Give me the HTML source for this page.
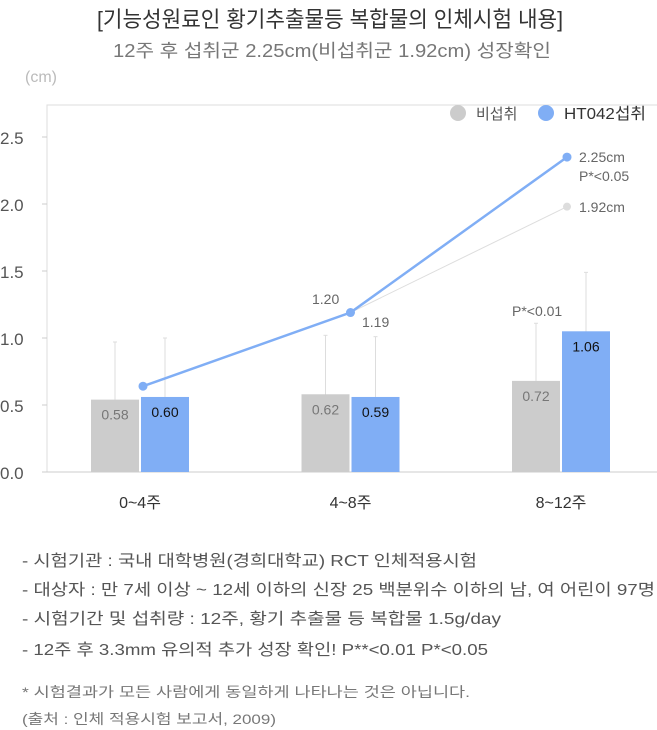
<!DOCTYPE html>
<html><head><meta charset="utf-8"><style>
body{margin:0;background:#fff;width:657px;height:730px;overflow:hidden;font-family:"Liberation Sans","Noto Sans CJK KR",sans-serif}
svg{display:block}
</style></head><body>
<svg id="c" width="657" height="730" xmlns="http://www.w3.org/2000/svg" font-family="Liberation Sans, Noto Sans CJK KR, sans-serif">
<text x="97" y="27" textLength="466" lengthAdjust="spacingAndGlyphs" font-size="22" fill="#333">[기능성원료인 황기추출물등 복합물의 인체시험 내용]</text>
<text x="113" y="57" textLength="438" lengthAdjust="spacingAndGlyphs" font-size="18" fill="#777">12주 후 섭취군 2.25cm(비섭취군 1.92cm) 성장확인</text>
<text x="25" y="82" font-size="16" fill="#bbb">(cm)</text>
<rect x="47" y="105" width="612" height="367" fill="none" stroke="#ddd" stroke-width="1"/>
<g id="g"></g>
<g>
<circle cx="458" cy="113" r="8" fill="#ccc"/>
<text x="476" y="119" font-size="15" fill="#555">비섭취</text>
<circle cx="546" cy="113" r="8" fill="#80aef5"/>
<text x="564" y="119" textLength="82" lengthAdjust="spacingAndGlyphs" font-size="16" fill="#333">HT042섭취</text>
</g>
<g font-size="16" fill="#555">
<text x="22" y="566" textLength="455" lengthAdjust="spacingAndGlyphs">- 시험기관 : 국내 대학병원(경희대학교) RCT 인체적용시험</text>
<text x="22" y="595" textLength="633" lengthAdjust="spacingAndGlyphs">- 대상자 : 만 7세 이상 ~ 12세 이하의 신장 25 백분위수 이하의 남, 여 어린이 97명</text>
<text x="22" y="624" textLength="479" lengthAdjust="spacingAndGlyphs">- 시험기간 및 섭취량 : 12주, 황기 추출물 등 복합물 1.5g/day</text>
<text x="22" y="655" textLength="466" lengthAdjust="spacingAndGlyphs">- 12주 후 3.3mm 유의적 추가 성장 확인! P**&lt;0.01 P*&lt;0.05</text>
</g>
<g font-size="14" fill="#777">
<text x="22" y="697" textLength="448" lengthAdjust="spacingAndGlyphs">* 시험결과가 모든 사람에게 동일하게 나타나는 것은 아닙니다.</text>
<text x="22" y="724" textLength="254" lengthAdjust="spacingAndGlyphs">(출처 : 인체 적용시험 보고서, 2009)</text>
</g>
</svg>
<script>
const categories=["0~4주","4~8주","8~12주"];
const controlBars=[0.54,0.58,0.68];
const treatBars=[0.56,0.56,1.05];
const controlLabels=["0.58","0.62","0.72"];
const treatLabels=["0.60","0.59","1.06"];
const controlErr=[0.97,1.02,1.11];
const treatErr=[1.0,1.01,1.49];
const cumTreat=[0.64,1.19,2.35];
const cumControl=[null,1.19,1.98];
const yTicks=[0,0.5,1.0,1.5,2.0,2.5];
const NS="http://www.w3.org/2000/svg";
const g=document.getElementById('g');
const y=v=>472-v*134;
const cx=i=>140+i*210.5;
function mk(t,a,p){const e=document.createElementNS(NS,t);for(const k in a)e.setAttribute(k,a[k]);(p||g).appendChild(e);return e;}
yTicks.forEach(v=>{
const t=mk('text',{x:0,y:y(v)+7,'font-size':17,fill:'#555'});t.textContent=v.toFixed(1);


const l=mk('line',{x1:42,x2:47,y1:y(v),y2:y(v),stroke:'#ccc'});


});
const bx=mk('line',{x1:42,x2:657,y1:472,y2:472,stroke:'#ccc'});


categories.forEach((c,i)=>{
const x=cx(i);
const el=mk('line',{x1:x-25,x2:x-25,y1:y(controlErr[i]),y2:472,stroke:'#ddd'});


const tk=mk('line',{x1:x-27,x2:x-23,y1:y(controlErr[i]),y2:y(controlErr[i]),stroke:'#ddd'});


const el2=mk('line',{x1:x+25,x2:x+25,y1:y(treatErr[i]),y2:472,stroke:'#ddd'});


const tk2=mk('line',{x1:x+23,x2:x+27,y1:y(treatErr[i]),y2:y(treatErr[i]),stroke:'#ddd'});


const b1=mk('rect',{x:x-49,y:y(controlBars[i]),width:48,height:472-y(controlBars[i]),fill:'#ccc'});


const b2=mk('rect',{x:x+1,y:y(treatBars[i]),width:48,height:472-y(treatBars[i]),fill:'#80aef5'});


const t1=mk('text',{x:x-25,y:y(controlBars[i])+20,'text-anchor':'middle','font-size':14,fill:'#777'});t1.textContent=controlLabels[i];


const t2=mk('text',{x:x+25,y:y(treatBars[i])+20,'text-anchor':'middle','font-size':14,fill:'#111'});t2.textContent=treatLabels[i];


const xl=mk('text',{x:x,y:508,'text-anchor':'middle','font-size':16,fill:'#333'});xl.textContent=c;


});
let pc=[];cumControl.forEach((v,i)=>{if(v!==null)pc.push((cx(i)+(i==2?6:0))+','+y(v));});
const lc=mk('polyline',{points:pc.join(' '),fill:'none',stroke:'#ddd','stroke-width':1});


const dc=mk('circle',{cx:cx(2)+6,cy:y(cumControl[2]),r:4,fill:'#ddd'});


const pts=cumTreat.map((v,i)=>(cx(i)+(i==0?3:i==2?6:0))+','+y(v));
const lt=mk('polyline',{points:pts.join(' '),fill:'none',stroke:'#80aef5','stroke-width':2.5});


cumTreat.forEach((v,i)=>{
const d=mk('circle',{cx:cx(i)+(i==0?3:i==2?6:0),cy:y(v),r:4.5,fill:'#80aef5'});


});
function lab(x,yy,s,name,col){const t=mk('text',{x:x,y:yy,'font-size':14,fill:col||'#666'});t.textContent=s;

}
lab(312,304,'1.20','label-ht042-cum-2');
lab(362,327,'1.19','label-control-cum-2');
lab(579,162,'2.25cm','label-ht042-final');
lab(579,181,'P*<0.05','label-p-value-final');
lab(579,212,'1.92cm','label-control-final');
lab(512,316,'P*<0.01','label-p-value-bar');
</script>
</body></html>
